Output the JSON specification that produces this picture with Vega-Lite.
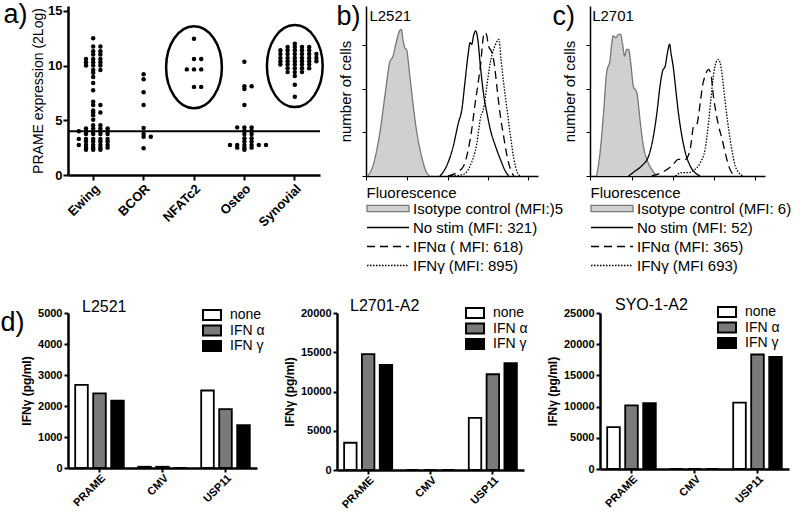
{
  "$schema": "https://vega.github.io/schema/vega-lite/v6.json",
  "padding": 0,
  "background": "white",
  "config": {
    "view": {"stroke": null},
    "font": "Liberation Sans",
    "axis": {"grid": false, "domainColor": "black", "tickColor": "black", "labelColor": "black", "titleColor": "black", "labelFont": "Liberation Sans", "titleFont": "Liberation Sans"},
    "legend": {"padding": 0, "labelColor": "black", "labelFont": "Liberation Sans"},
    "title": {"color": "black", "fontWeight": "normal", "font": "Liberation Sans"}
  },
  "spacing": 23,
  "resolve": {"scale": {"xOffset": "independent", "fill": "independent"}},
  "vconcat": [
    {
      "spacing": 8,
      "resolve": {"scale": {"xOffset": "independent"}},
      "hconcat": [
        {
          "width": 252, "height": 169,
          "title": {"text": "a)", "anchor": "start", "frame": "bounds", "fontSize": 27, "dx": -28, "offset": -24},
          "layer": [
            {
              "data": {"values": [
                {"c":"Ewing","v":12.5},{"c":"Ewing","v":11.75},{"c":"Ewing","v":11.75},{"c":"Ewing","v":11.3},{"c":"Ewing","v":11.3},
                {"c":"Ewing","v":11.0},{"c":"Ewing","v":11.0},{"c":"Ewing","v":10.6},{"c":"Ewing","v":10.6},{"c":"Ewing","v":10.6},
                {"c":"Ewing","v":10.3},{"c":"Ewing","v":10.3},{"c":"Ewing","v":10.3},{"c":"Ewing","v":10.0},{"c":"Ewing","v":10.0},{"c":"Ewing","v":10.0},
                {"c":"Ewing","v":9.6},{"c":"Ewing","v":9.6},{"c":"Ewing","v":9.35},{"c":"Ewing","v":8.95},{"c":"Ewing","v":8.4},{"c":"Ewing","v":7.75},
                {"c":"Ewing","v":6.7},{"c":"Ewing","v":6.4},{"c":"Ewing","v":6.4},{"c":"Ewing","v":5.9},{"c":"Ewing","v":5.7},{"c":"Ewing","v":5.7},
                {"c":"Ewing","v":5.45},{"c":"Ewing","v":5.05},{"c":"Ewing","v":4.55},{"c":"Ewing","v":4.55},
                {"c":"Ewing","v":4.25},{"c":"Ewing","v":4.25},{"c":"Ewing","v":4.25},{"c":"Ewing","v":4.25},
                {"c":"Ewing","v":4.0},{"c":"Ewing","v":4.0},{"c":"Ewing","v":4.0},{"c":"Ewing","v":4.0},{"c":"Ewing","v":4.0},
                {"c":"Ewing","v":3.75},{"c":"Ewing","v":3.75},{"c":"Ewing","v":3.75},{"c":"Ewing","v":3.75},
                {"c":"Ewing","v":3.3},{"c":"Ewing","v":3.3},{"c":"Ewing","v":3.3},{"c":"Ewing","v":3.3},{"c":"Ewing","v":3.3},
                {"c":"Ewing","v":3.05},{"c":"Ewing","v":3.05},{"c":"Ewing","v":3.05},{"c":"Ewing","v":3.05},
                {"c":"Ewing","v":2.75},{"c":"Ewing","v":2.75},{"c":"Ewing","v":2.75},{"c":"Ewing","v":2.75},{"c":"Ewing","v":2.75},
                {"c":"Ewing","v":2.5},{"c":"Ewing","v":2.5},{"c":"Ewing","v":2.5},{"c":"Ewing","v":2.5},
                {"c":"Ewing","v":2.3},{"c":"Ewing","v":2.3},{"c":"Ewing","v":2.3},
                {"c":"BCOR","v":9.2},{"c":"BCOR","v":8.75},{"c":"BCOR","v":7.55},{"c":"BCOR","v":6.4},{"c":"BCOR","v":4.3},
                {"c":"BCOR","v":3.75},{"c":"BCOR","v":3.5},{"c":"BCOR","v":3.5},{"c":"BCOR","v":2.45},
                {"c":"NFATc2","v":12.45},{"c":"NFATc2","v":10.6},{"c":"NFATc2","v":10.6},{"c":"NFATc2","v":9.65},{"c":"NFATc2","v":9.65},
                {"c":"NFATc2","v":9.65},{"c":"NFATc2","v":8.05},{"c":"NFATc2","v":8.05},
                {"c":"Osteo","v":10.35},{"c":"Osteo","v":8.1},{"c":"Osteo","v":8.1},{"c":"Osteo","v":7.85},{"c":"Osteo","v":6.4},
                {"c":"Osteo","v":4.35},{"c":"Osteo","v":4.35},{"c":"Osteo","v":4.35},{"c":"Osteo","v":4.05},{"c":"Osteo","v":4.05},
                {"c":"Osteo","v":3.75},{"c":"Osteo","v":3.75},{"c":"Osteo","v":3.35},{"c":"Osteo","v":3.35},{"c":"Osteo","v":3.05},{"c":"Osteo","v":3.05},
                {"c":"Osteo","v":2.75},{"c":"Osteo","v":2.75},{"c":"Osteo","v":2.75},{"c":"Osteo","v":2.75},{"c":"Osteo","v":2.75},{"c":"Osteo","v":2.75},
                {"c":"Osteo","v":2.5},{"c":"Osteo","v":2.5},{"c":"Osteo","v":2.5},{"c":"Osteo","v":2.3},
                {"c":"Synovial","v":12.0},
                {"c":"Synovial","v":11.7},{"c":"Synovial","v":11.7},{"c":"Synovial","v":11.7},{"c":"Synovial","v":11.7},
                {"c":"Synovial","v":11.4},{"c":"Synovial","v":11.4},{"c":"Synovial","v":11.4},{"c":"Synovial","v":11.4},{"c":"Synovial","v":11.4},
                {"c":"Synovial","v":11.05},{"c":"Synovial","v":11.05},{"c":"Synovial","v":11.05},{"c":"Synovial","v":11.05},{"c":"Synovial","v":11.05},{"c":"Synovial","v":11.05},
                {"c":"Synovial","v":10.7},{"c":"Synovial","v":10.7},{"c":"Synovial","v":10.7},{"c":"Synovial","v":10.7},{"c":"Synovial","v":10.7},{"c":"Synovial","v":10.7},
                {"c":"Synovial","v":10.4},{"c":"Synovial","v":10.4},{"c":"Synovial","v":10.4},{"c":"Synovial","v":10.4},{"c":"Synovial","v":10.4},{"c":"Synovial","v":10.4},
                {"c":"Synovial","v":10.1},{"c":"Synovial","v":10.1},{"c":"Synovial","v":10.1},{"c":"Synovial","v":10.1},{"c":"Synovial","v":10.1},
                {"c":"Synovial","v":9.75},{"c":"Synovial","v":9.75},{"c":"Synovial","v":9.75},{"c":"Synovial","v":9.75},
                {"c":"Synovial","v":9.4},{"c":"Synovial","v":9.4},{"c":"Synovial","v":9.4},
                {"c":"Synovial","v":9.05},{"c":"Synovial","v":8.25},{"c":"Synovial","v":7.15}
              ]},
              "transform": [{"window": [{"op": "row_number", "as": "slot"}], "groupby": ["c", "v"]}],
              "mark": {"type": "point", "filled": true, "size": 20, "color": "black", "opacity": 1},
              "encoding": {
                "x": {"field": "c", "type": "nominal", "sort": ["Ewing","BCOR","NFATc2","Osteo","Synovial"],
                  "scale": {"paddingInner": 0, "paddingOuter": 0},
                  "axis": {"title": null, "labelAngle": -45, "labelFontWeight": "bold", "labelFontSize": 13, "domainWidth": 2.5, "tickWidth": 2, "tickSize": 5, "labelPadding": 2}},
                "xOffset": {"field": "slot", "type": "ordinal", "scale": {"domain": [7,5,3,1,2,4,6], "paddingOuter": 0.5, "paddingInner": 0}},
                "y": {"field": "v", "type": "quantitative", "scale": {"domain": [0, 15.44], "nice": false},
                  "axis": {"values": [0,5,10,15], "title": "PRAME expression (2Log)", "titleFontSize": 14, "titleFontWeight": "normal", "labelFontWeight": "bold", "labelFontSize": 13, "domainWidth": 2.5, "tickWidth": 2, "tickSize": 5, "labelPadding": 1, "titlePadding": 2}}
              }
            },
            {"data": {"values": [{}]}, "mark": {"type": "rule", "color": "black", "strokeWidth": 2}, "encoding": {"y": {"datum": 4}}},
            {
              "data": {"values": [{"c": "NFATc2", "v": 9.85}, {"c": "Synovial", "v": 9.95}]},
              "mark": {"type": "point", "shape": "M-0.68,0A0.68,1,0,1,0,0.68,0A0.68,1,0,1,0,-0.68,0Z", "size": 6724, "filled": false, "stroke": "black", "strokeWidth": 2.5, "opacity": 1},
              "encoding": {"x": {"field": "c", "type": "nominal", "sort": ["Ewing","BCOR","NFATc2","Osteo","Synovial"]}, "y": {"field": "v", "type": "quantitative"}}
            }
          ]
        },
        {
          "spacing": -12,
          "resolve": {"scale": {"stroke": "independent", "strokeDash": "independent"}, "legend": {"stroke": "independent", "strokeDash": "independent"}},
          "hconcat": [
            {
              "width": 172, "height": 170,
              "title": {"text": "b)", "anchor": "start", "frame": "bounds", "fontSize": 27, "dx": -2, "offset": -25},
              "data": {"values": [
                {"s":"iso","x":0.04,"y":0},{"s":"iso","x":0.16,"y":5.9},{"s":"iso","x":0.31,"y":23.5},{"s":"iso","x":0.47,"y":52.9},{"s":"iso","x":0.55,"y":66.7},
                {"s":"iso","x":0.63,"y":70.6},{"s":"iso","x":0.70,"y":78.4},{"s":"iso","x":0.78,"y":85.3},{"s":"iso","x":0.82,"y":86.3},{"s":"iso","x":0.86,"y":80.4},
                {"s":"iso","x":0.90,"y":75.5},{"s":"iso","x":0.94,"y":74.5},{"s":"iso","x":1.02,"y":58.8},{"s":"iso","x":1.09,"y":43.1},{"s":"iso","x":1.17,"y":27.5},
                {"s":"iso","x":1.29,"y":11.8},{"s":"iso","x":1.41,"y":2},{"s":"iso","x":1.48,"y":0},
                {"s":"none","x":1.72,"y":0},{"s":"none","x":1.875,"y":5.9},{"s":"none","x":2.03,"y":17.6},{"s":"none","x":2.15,"y":31.4},{"s":"none","x":2.23,"y":39.2},
                {"s":"none","x":2.30,"y":54.9},{"s":"none","x":2.38,"y":72.5},{"s":"none","x":2.42,"y":78.4},{"s":"none","x":2.46,"y":77.5},{"s":"none","x":2.5,"y":82.4},
                {"s":"none","x":2.55,"y":85.3},{"s":"none","x":2.60,"y":80.4},{"s":"none","x":2.66,"y":64.7},{"s":"none","x":2.73,"y":49},{"s":"none","x":2.81,"y":37.3},
                {"s":"none","x":2.89,"y":27.5},{"s":"none","x":3.01,"y":17.6},{"s":"none","x":3.125,"y":9.8},{"s":"none","x":3.24,"y":2.9},{"s":"none","x":3.32,"y":0},
                {"s":"a","x":1.91,"y":0},{"s":"a","x":2.11,"y":2},{"s":"a","x":2.27,"y":5.9},{"s":"a","x":2.38,"y":15.7},{"s":"a","x":2.46,"y":27.5},
                {"s":"a","x":2.54,"y":43.1},{"s":"a","x":2.62,"y":56.9},{"s":"a","x":2.67,"y":66.7},{"s":"a","x":2.72,"y":80.4},{"s":"a","x":2.75,"y":84.3},
                {"s":"a","x":2.80,"y":83.3},{"s":"a","x":2.85,"y":76.5},{"s":"a","x":2.93,"y":72.5},{"s":"a","x":2.99,"y":64.7},{"s":"a","x":3.05,"y":51},
                {"s":"a","x":3.125,"y":35.3},{"s":"a","x":3.20,"y":23.5},{"s":"a","x":3.28,"y":11.8},{"s":"a","x":3.36,"y":3.9},{"s":"a","x":3.44,"y":0},
                {"s":"g","x":1.99,"y":0},{"s":"g","x":2.27,"y":1},{"s":"g","x":2.42,"y":5.9},{"s":"g","x":2.58,"y":19.6},{"s":"g","x":2.67,"y":35.3},
                {"s":"g","x":2.73,"y":39.2},{"s":"g","x":2.81,"y":52.9},{"s":"g","x":2.89,"y":66.7},{"s":"g","x":2.97,"y":74.5},{"s":"g","x":3.05,"y":79.4},
                {"s":"g","x":3.09,"y":80.4},{"s":"g","x":3.14,"y":68.6},{"s":"g","x":3.20,"y":54.9},{"s":"g","x":3.28,"y":39.2},{"s":"g","x":3.36,"y":23.5},
                {"s":"g","x":3.44,"y":9.8},{"s":"g","x":3.52,"y":2},{"s":"g","x":3.59,"y":0}
              ]},
              "layer": [
                {
                  "transform": [{"filter": "datum.s === 'iso'"}],
                  "mark": {"type": "area", "color": "#d0d0d0", "interpolate": "monotone"},
                  "encoding": {
                    "x": {"field": "x", "type": "quantitative", "scale": {"domain": [0, 4], "nice": false},
                      "axis": {"title": "Fluorescence", "titleAnchor": "start", "titleFontSize": 15, "titleFontWeight": "normal", "titlePadding": 5, "labels": false, "tickSize": 4, "domainWidth": 1.5,
                        "values": [0,0.301,0.477,0.602,0.699,0.778,0.845,0.903,0.954,1,1.301,1.477,1.602,1.699,1.778,1.845,1.903,1.954,2,2.301,2.477,2.602,2.699,2.778,2.845,2.903,2.954,3,3.301,3.477,3.602,3.699,3.778,3.845,3.903,3.954,4]}},
                    "y": {"field": "y", "type": "quantitative", "scale": {"domain": [0, 100], "nice": false},
                      "axis": {"title": "number of cells", "titleFontSize": 15, "titleFontWeight": "normal", "labels": false, "tickSize": 4, "titlePadding": 8, "domainWidth": 1.5,
                        "values": [0,6.4,12.8,19.2,25.6,32,38.4,44.8,51.2,57.6,64,70.4,76.8,83.2,89.6,96]}}
                  }
                },
                {
                  "mark": {"type": "line", "strokeWidth": 1.3, "interpolate": "monotone"},
                  "encoding": {
                    "x": {"field": "x", "type": "quantitative"},
                    "y": {"field": "y", "type": "quantitative"},
                    "stroke": {"field": "s", "type": "nominal", "scale": {"domain": ["iso","none","a","g"], "range": ["#777777","black","black","black"]},
                      "legend": {"orient": "none", "legendX": 0, "legendY": 194, "title": null, "symbolType": "stroke", "symbolSize": 1764, "symbolStrokeWidth": 1.3, "clipHeight": 17, "rowPadding": 2, "labelFontSize": 15, "labelOffset": 3, "labelLimit": 300,
                        "labelExpr": "datum.value === 'iso' ? 'Isotype control (MFI:)5' : datum.value === 'none' ? 'No stim (MFI: 321)' : datum.value === 'a' ? 'IFNα ( MFI: 618)' : 'IFNγ (MFI: 895)'",
                        "encode": {"symbols": {"update": {"shape": {"signal": "datum.value === 'iso' ? 'M-1,-0.15H1V0.15H-1Z' : 'stroke'"}, "fill": {"signal": "datum.value === 'iso' ? '#d0d0d0' : 'transparent'"}}}}}},
                    "strokeDash": {"field": "s", "type": "nominal", "scale": {"domain": ["iso","none","a","g"], "range": [[1,0],[1,0],[8,5],[1.5,1.5]]},
                      "legend": {"orient": "none", "legendX": 0, "legendY": 194, "title": null, "symbolType": "stroke", "symbolSize": 1764, "symbolStrokeWidth": 1.3, "clipHeight": 17, "rowPadding": 2, "labelFontSize": 15, "labelOffset": 3, "labelLimit": 300,
                        "labelExpr": "datum.value === 'iso' ? 'Isotype control (MFI:)5' : datum.value === 'none' ? 'No stim (MFI: 321)' : datum.value === 'a' ? 'IFNα ( MFI: 618)' : 'IFNγ (MFI: 895)'",
                        "encode": {"symbols": {"update": {"shape": {"signal": "datum.value === 'iso' ? 'M-1,-0.15H1V0.15H-1Z' : 'stroke'"}, "fill": {"signal": "datum.value === 'iso' ? '#d0d0d0' : 'transparent'"}}}}}}
                  }
                },
                {
                  "data": {"values": [{"t": "L2521"}]},
                  "mark": {"type": "text", "align": "left", "baseline": "top", "fontSize": 15, "font": "Liberation Sans", "color": "black"},
                  "encoding": {"x": {"datum": 0.08}, "y": {"datum": 98}, "text": {"field": "t"}}
                }
              ]
            },
            {
              "width": 175, "height": 170,
              "title": {"text": "c)", "anchor": "start", "frame": "bounds", "fontSize": 27, "dx": -10, "offset": -25},
              "data": {"values": [
                {"s":"iso","x":0.15,"y":0},{"s":"iso","x":0.23,"y":13.7},{"s":"iso","x":0.31,"y":37.3},{"s":"iso","x":0.38,"y":60.8},{"s":"iso","x":0.46,"y":68.6},
                {"s":"iso","x":0.50,"y":78.4},{"s":"iso","x":0.53,"y":82.4},{"s":"iso","x":0.59,"y":81.4},{"s":"iso","x":0.65,"y":83.3},{"s":"iso","x":0.70,"y":83.3},
                {"s":"iso","x":0.74,"y":78.4},{"s":"iso","x":0.79,"y":70.6},{"s":"iso","x":0.84,"y":74.5},{"s":"iso","x":0.88,"y":74.5},{"s":"iso","x":0.93,"y":66.7},
                {"s":"iso","x":0.99,"y":52.9},{"s":"iso","x":1.07,"y":49},{"s":"iso","x":1.15,"y":31.4},{"s":"iso","x":1.22,"y":17.6},{"s":"iso","x":1.30,"y":9.8},
                {"s":"iso","x":1.41,"y":3.9},{"s":"iso","x":1.53,"y":0},
                {"s":"none","x":0.88,"y":0},{"s":"none","x":1.03,"y":2.9},{"s":"none","x":1.18,"y":5.9},{"s":"none","x":1.34,"y":11.8},{"s":"none","x":1.45,"y":23.5},
                {"s":"none","x":1.53,"y":37.3},{"s":"none","x":1.60,"y":52.9},{"s":"none","x":1.66,"y":61.8},{"s":"none","x":1.72,"y":64.7},{"s":"none","x":1.77,"y":72.5},
                {"s":"none","x":1.82,"y":77.5},{"s":"none","x":1.85,"y":72.5},{"s":"none","x":1.91,"y":62.7},{"s":"none","x":1.96,"y":51},{"s":"none","x":2.02,"y":37.3},
                {"s":"none","x":2.10,"y":23.5},{"s":"none","x":2.18,"y":13.7},{"s":"none","x":2.29,"y":5.9},{"s":"none","x":2.40,"y":2},{"s":"none","x":2.52,"y":0},
                {"s":"a","x":1.41,"y":0},{"s":"a","x":1.64,"y":2},{"s":"a","x":1.87,"y":5.9},{"s":"a","x":2.02,"y":9.8},{"s":"a","x":2.18,"y":9.8},
                {"s":"a","x":2.29,"y":15.7},{"s":"a","x":2.37,"y":29.4},{"s":"a","x":2.44,"y":30.4},{"s":"a","x":2.52,"y":43.1},{"s":"a","x":2.57,"y":52.9},
                {"s":"a","x":2.63,"y":58.8},{"s":"a","x":2.71,"y":62.7},{"s":"a","x":2.77,"y":58.8},{"s":"a","x":2.82,"y":47.1},{"s":"a","x":2.88,"y":37.3},
                {"s":"a","x":2.94,"y":29.4},{"s":"a","x":3.02,"y":21.6},{"s":"a","x":3.09,"y":13.7},{"s":"a","x":3.17,"y":5.9},{"s":"a","x":3.24,"y":2},{"s":"a","x":3.32,"y":0},
                {"s":"g","x":1.95,"y":0},{"s":"g","x":2.10,"y":2},{"s":"g","x":2.25,"y":2},{"s":"g","x":2.40,"y":3.9},{"s":"g","x":2.52,"y":7.8},
                {"s":"g","x":2.63,"y":15.7},{"s":"g","x":2.71,"y":31.4},{"s":"g","x":2.77,"y":47.1},{"s":"g","x":2.82,"y":58.8},{"s":"g","x":2.88,"y":66.7},
                {"s":"g","x":2.94,"y":68.6},{"s":"g","x":2.99,"y":64.7},{"s":"g","x":3.05,"y":52.9},{"s":"g","x":3.11,"y":39.2},{"s":"g","x":3.18,"y":25.5},
                {"s":"g","x":3.24,"y":15.7},{"s":"g","x":3.32,"y":5.9},{"s":"g","x":3.40,"y":2},{"s":"g","x":3.51,"y":0}
              ]},
              "layer": [
                {
                  "transform": [{"filter": "datum.s === 'iso'"}],
                  "mark": {"type": "area", "color": "#d0d0d0", "interpolate": "monotone"},
                  "encoding": {
                    "x": {"field": "x", "type": "quantitative", "scale": {"domain": [0, 4], "nice": false},
                      "axis": {"title": "Fluorescence", "titleAnchor": "start", "titleFontSize": 15, "titleFontWeight": "normal", "titlePadding": 5, "labels": false, "tickSize": 4, "domainWidth": 1.5,
                        "values": [0,0.301,0.477,0.602,0.699,0.778,0.845,0.903,0.954,1,1.301,1.477,1.602,1.699,1.778,1.845,1.903,1.954,2,2.301,2.477,2.602,2.699,2.778,2.845,2.903,2.954,3,3.301,3.477,3.602,3.699,3.778,3.845,3.903,3.954,4]}},
                    "y": {"field": "y", "type": "quantitative", "scale": {"domain": [0, 100], "nice": false},
                      "axis": {"title": "number of cells", "titleFontSize": 15, "titleFontWeight": "normal", "labels": false, "tickSize": 4, "titlePadding": 8, "domainWidth": 1.5,
                        "values": [0,6.4,12.8,19.2,25.6,32,38.4,44.8,51.2,57.6,64,70.4,76.8,83.2,89.6,96]}}
                  }
                },
                {
                  "mark": {"type": "line", "strokeWidth": 1.3, "interpolate": "monotone"},
                  "encoding": {
                    "x": {"field": "x", "type": "quantitative"},
                    "y": {"field": "y", "type": "quantitative"},
                    "stroke": {"field": "s", "type": "nominal", "scale": {"domain": ["iso","none","a","g"], "range": ["#777777","black","black","black"]},
                      "legend": {"orient": "none", "legendX": 0, "legendY": 194, "title": null, "symbolType": "stroke", "symbolSize": 1764, "symbolStrokeWidth": 1.3, "clipHeight": 17, "rowPadding": 2, "labelFontSize": 15, "labelOffset": 3, "labelLimit": 300,
                        "labelExpr": "datum.value === 'iso' ? 'Isotype control (MFI: 6)' : datum.value === 'none' ? 'No stim (MFI: 52)' : datum.value === 'a' ? 'IFNα (MFI: 365)' : 'IFNγ (MFI 693)'",
                        "encode": {"symbols": {"update": {"shape": {"signal": "datum.value === 'iso' ? 'M-1,-0.15H1V0.15H-1Z' : 'stroke'"}, "fill": {"signal": "datum.value === 'iso' ? '#d0d0d0' : 'transparent'"}}}}}},
                    "strokeDash": {"field": "s", "type": "nominal", "scale": {"domain": ["iso","none","a","g"], "range": [[1,0],[1,0],[8,5],[1.5,1.5]]},
                      "legend": {"orient": "none", "legendX": 0, "legendY": 194, "title": null, "symbolType": "stroke", "symbolSize": 1764, "symbolStrokeWidth": 1.3, "clipHeight": 17, "rowPadding": 2, "labelFontSize": 15, "labelOffset": 3, "labelLimit": 300,
                        "labelExpr": "datum.value === 'iso' ? 'Isotype control (MFI: 6)' : datum.value === 'none' ? 'No stim (MFI: 52)' : datum.value === 'a' ? 'IFNα (MFI: 365)' : 'IFNγ (MFI 693)'",
                        "encode": {"symbols": {"update": {"shape": {"signal": "datum.value === 'iso' ? 'M-1,-0.15H1V0.15H-1Z' : 'stroke'"}, "fill": {"signal": "datum.value === 'iso' ? '#d0d0d0' : 'transparent'"}}}}}}
                  }
                },
                {
                  "data": {"values": [{"t": "L2701"}]},
                  "mark": {"type": "text", "align": "left", "baseline": "top", "fontSize": 15, "font": "Liberation Sans", "color": "black"},
                  "encoding": {"x": {"datum": 0.05}, "y": {"datum": 98}, "text": {"field": "t"}}
                }
              ]
            }
          ]
        }
      ]
    },
    {
      "title": {"text": "d)", "anchor": "start", "frame": "bounds", "fontSize": 27, "dx": -20, "offset": -40},
      "spacing": 18,
      "resolve": {"scale": {"fill": "independent", "xOffset": "independent"}, "legend": {"fill": "independent"}},
      "hconcat": [
        {
          "width": 189, "height": 155,
          "title": {"text": "L2521", "anchor": "start", "frame": "group", "fontSize": 16, "offset": -8, "dx": 14},
          "data": {"values": [
            {"p":"PRAME","t":"none","v":2680},{"p":"PRAME","t":"IFN α","v":2410},{"p":"PRAME","t":"IFN γ","v":2170},
            {"p":"CMV","t":"none","v":40},{"p":"CMV","t":"IFN α","v":40},{"p":"CMV","t":"IFN γ","v":0},
            {"p":"USP11","t":"none","v":2500},{"p":"USP11","t":"IFN α","v":1900},{"p":"USP11","t":"IFN γ","v":1380}
          ]},
          "mark": {"type": "bar", "stroke": "black", "strokeWidth": 1.8},
          "encoding": {
            "x": {"field": "p", "type": "nominal", "sort": ["PRAME","CMV","USP11"], "scale": {"paddingInner": 0, "paddingOuter": 0},
              "axis": {"title": null, "labelAngle": -45, "labelFontSize": 11, "labelFontWeight": "bold", "tickSize": 4, "domainWidth": 2.5, "tickWidth": 2, "labelPadding": 0}},
            "xOffset": {"field": "t", "type": "nominal", "scale": {"domain": ["none","IFN α","IFN γ"], "paddingInner": 0.3, "paddingOuter": 0.4}},
            "y": {"field": "v", "type": "quantitative", "stack": null, "scale": {"domain": [0, 5000], "nice": false},
              "axis": {"values": [0,1000,2000,3000,4000,5000], "format": "d", "title": "IFNγ (pg/ml)", "titleFontSize": 12, "titleFontWeight": "bold", "titlePadding": 4, "labelFontSize": 11, "labelFontWeight": "bold", "labelPadding": 2, "tickSize": 4, "domainWidth": 2.5, "tickWidth": 2}},
            "fill": {"field": "t", "type": "nominal", "scale": {"domain": ["none","IFN α","IFN γ"], "range": ["white","#7a7a7a","black"]},
              "legend": {"orient": "none", "legendX": 134, "legendY": -5, "title": null, "symbolSize": 324, "symbolStrokeColor": "black", "symbolStrokeWidth": 2, "clipHeight": 14, "rowPadding": 1.5, "labelFontSize": 14, "labelOffset": 8,
                "encode": {"symbols": {"update": {"shape": {"value": "M-1,-0.55H1V0.55H-1Z"}}}}}}
          }
        },
        {
          "width": 187, "height": 157,
          "title": {"text": "L2701-A2", "anchor": "start", "frame": "group", "fontSize": 16, "offset": -8, "dx": 13},
          "data": {"values": [
            {"p":"PRAME","t":"none","v":3470},{"p":"PRAME","t":"IFN α","v":14750},{"p":"PRAME","t":"IFN γ","v":13400},
            {"p":"CMV","t":"none","v":0},{"p":"CMV","t":"IFN α","v":0},{"p":"CMV","t":"IFN γ","v":0},
            {"p":"USP11","t":"none","v":6650},{"p":"USP11","t":"IFN α","v":12200},{"p":"USP11","t":"IFN γ","v":13600}
          ]},
          "mark": {"type": "bar", "stroke": "black", "strokeWidth": 1.8},
          "encoding": {
            "x": {"field": "p", "type": "nominal", "sort": ["PRAME","CMV","USP11"], "scale": {"paddingInner": 0, "paddingOuter": 0},
              "axis": {"title": null, "labelAngle": -45, "labelFontSize": 11, "labelFontWeight": "bold", "tickSize": 4, "domainWidth": 2.5, "tickWidth": 2, "labelPadding": 0}},
            "xOffset": {"field": "t", "type": "nominal", "scale": {"domain": ["none","IFN α","IFN γ"], "paddingInner": 0.3, "paddingOuter": 0.4}},
            "y": {"field": "v", "type": "quantitative", "stack": null, "scale": {"domain": [0, 20000], "nice": false},
              "axis": {"values": [0,5000,10000,15000,20000], "format": "d", "title": "IFNγ (pg/ml)", "titleFontSize": 12, "titleFontWeight": "bold", "titlePadding": 4, "labelFontSize": 11, "labelFontWeight": "bold", "labelPadding": 2, "tickSize": 4, "domainWidth": 2.5, "tickWidth": 2}},
            "fill": {"field": "t", "type": "nominal", "scale": {"domain": ["none","IFN α","IFN γ"], "range": ["white","#7a7a7a","black"]},
              "legend": {"orient": "none", "legendX": 128, "legendY": -7, "title": null, "symbolSize": 324, "symbolStrokeColor": "black", "symbolStrokeWidth": 2, "clipHeight": 14, "rowPadding": 1.5, "labelFontSize": 14, "labelOffset": 8,
                "encode": {"symbols": {"update": {"shape": {"value": "M-1,-0.55H1V0.55H-1Z"}}}}}}
          }
        },
        {
          "width": 189, "height": 156,
          "title": {"text": "SYO-1-A2", "anchor": "start", "frame": "group", "fontSize": 16, "offset": -8, "dx": 15},
          "data": {"values": [
            {"p":"PRAME","t":"none","v":6700},{"p":"PRAME","t":"IFN α","v":10200},{"p":"PRAME","t":"IFN γ","v":10550},
            {"p":"CMV","t":"none","v":0},{"p":"CMV","t":"IFN α","v":0},{"p":"CMV","t":"IFN γ","v":0},
            {"p":"USP11","t":"none","v":10650},{"p":"USP11","t":"IFN α","v":18350},{"p":"USP11","t":"IFN γ","v":17980}
          ]},
          "mark": {"type": "bar", "stroke": "black", "strokeWidth": 1.8},
          "encoding": {
            "x": {"field": "p", "type": "nominal", "sort": ["PRAME","CMV","USP11"], "scale": {"paddingInner": 0, "paddingOuter": 0},
              "axis": {"title": null, "labelAngle": -45, "labelFontSize": 11, "labelFontWeight": "bold", "tickSize": 4, "domainWidth": 2.5, "tickWidth": 2, "labelPadding": 0}},
            "xOffset": {"field": "t", "type": "nominal", "scale": {"domain": ["none","IFN α","IFN γ"], "paddingInner": 0.3, "paddingOuter": 0.4}},
            "y": {"field": "v", "type": "quantitative", "stack": null, "scale": {"domain": [0, 25000], "nice": false},
              "axis": {"values": [0,5000,10000,15000,20000,25000], "format": "d", "title": "IFNγ (pg/ml)", "titleFontSize": 12, "titleFontWeight": "bold", "titlePadding": 4, "labelFontSize": 11, "labelFontWeight": "bold", "labelPadding": 2, "tickSize": 4, "domainWidth": 2.5, "tickWidth": 2}},
            "fill": {"field": "t", "type": "nominal", "scale": {"domain": ["none","IFN α","IFN γ"], "range": ["white","#7a7a7a","black"]},
              "legend": {"orient": "none", "legendX": 117, "legendY": -8, "title": null, "symbolSize": 324, "symbolStrokeColor": "black", "symbolStrokeWidth": 2, "clipHeight": 14, "rowPadding": 1.5, "labelFontSize": 14, "labelOffset": 8,
                "encode": {"symbols": {"update": {"shape": {"value": "M-1,-0.55H1V0.55H-1Z"}}}}}}
          }
        }
      ]
    }
  ]
}
